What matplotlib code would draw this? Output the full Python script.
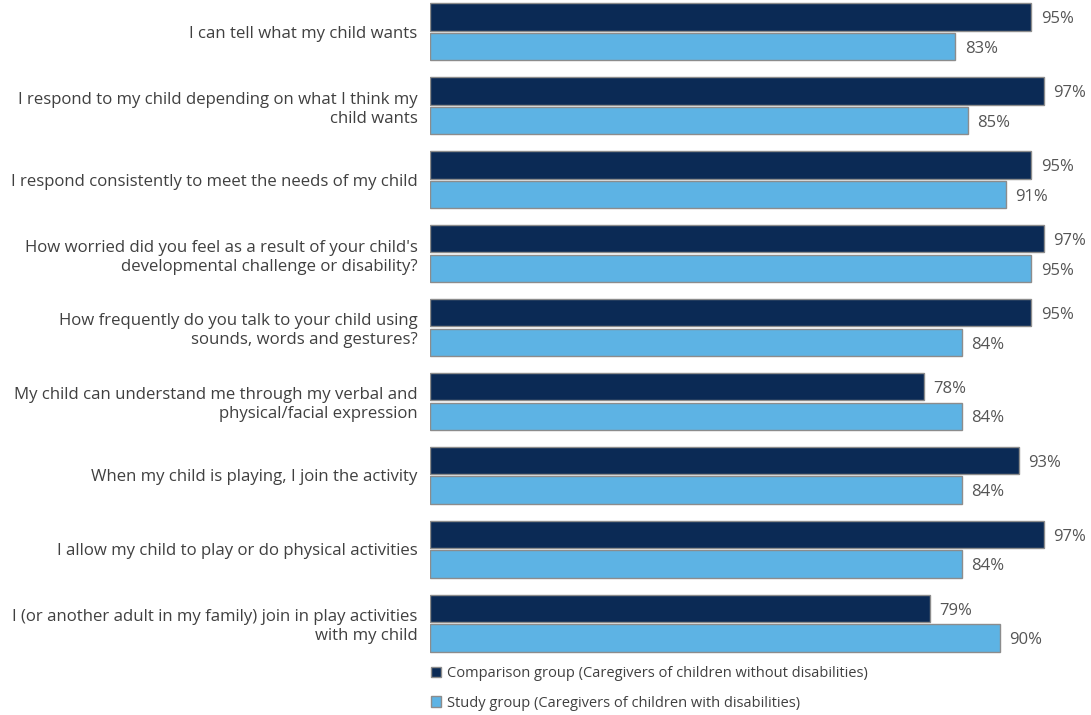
import matplotlib
matplotlib.use('Agg')
from matplotlib import pyplot as plt
import numpy as np

categories = [
    'I can tell what my child wants',
    'I respond to my child depending on what I think my\nchild wants',
    'I respond consistently to meet the needs of my child',
    "How worried did you feel as a result of your child's\ndevelopmental challenge or disability?",
    'How frequently do you talk to your child using\nsounds, words and gestures?',
    'My child can understand me through my verbal and\nphysical/facial expression',
    'When my child is playing, I join the activity',
    'I allow my child to play or do physical activities',
    'I (or another adult in my family) join in play activities\nwith my child',
]
comparison = [95, 97, 95, 97, 95, 78, 93, 97, 79]
study = [83, 85, 91, 95, 84, 84, 84, 84, 90]
series_names = [
    'Comparison group (Caregivers of children without disabilities)',
    'Study group (Caregivers of children with disabilities)',
]

dark = '#0b2a55'
light = '#5db3e4'
edge = '#8c8c8c'

plt.rcParams['font.family'] = ['Open Sans', 'DejaVu Sans']

fig = plt.figure(figsize=(10.91, 7.15), dpi=100)
ax = fig.add_axes([430 / 1091, 1 - 655 / 715, (1063 - 430) / 1091, 655 / 715])

y = np.arange(len(categories))
h = 0.37
off = 0.2
b1 = ax.barh(y - off, comparison, height=h, color=dark, edgecolor=edge, linewidth=1, label=series_names[0])
b2 = ax.barh(y + off, study, height=h, color=light, edgecolor=edge, linewidth=1, label=series_names[1])

for bars, vals in ((b1, comparison), (b2, study)):
    for bar, v in zip(bars, vals):
        ax.text(v + 1.5, bar.get_y() + bar.get_height() / 2 + 0.03, '%d%%' % v,
                va='center', ha='left', fontsize=12, color='#555555')

ax.set_xlim(0, 100)
ax.set_ylim(8.43, -0.43)
ax.set_yticks(y)
ax.set_yticklabels(categories, fontsize=12.1, color='#404040', ha='right', linespacing=1.25)
ax.tick_params(axis='y', length=0, pad=9)
ax.set_xticks([])
for s in ax.spines.values():
    s.set_visible(False)

fig.legend(handles=[b1, b2], labels=series_names, loc='upper left',
           bbox_to_anchor=(431 / 1091, 1 - 666 / 715), frameon=False,
           fontsize=10.5, handlelength=0.7, handleheight=0.7, handletextpad=0.4,
           labelspacing=1.0, borderaxespad=0, borderpad=0, labelcolor='#404040')

fig.savefig('out.png', dpi=100)
